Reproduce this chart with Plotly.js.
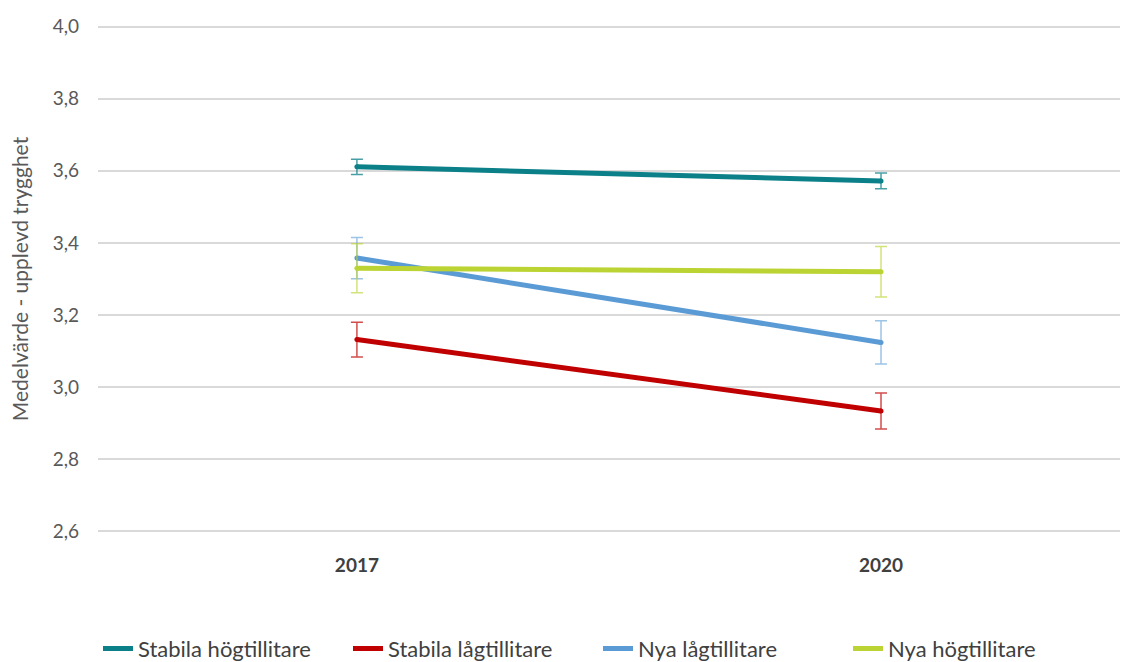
<!DOCTYPE html>
<html><head><meta charset="utf-8">
<script src="https://cdn.plot.ly/plotly-3.0.1.min.js"></script>
<style>body{margin:0;background:#fff}#c{width:1132px;height:662px}</style>
</head><body><div id="c"></div>
<script>
const years = ['2017', '2020'];
const seriesNames = ['Stabila högtillitare', 'Stabila lågtillitare', 'Nya lågtillitare', 'Nya högtillitare'];
const stabilaHog = [3.611, 3.572];
const stabilaHogErr = [0.021, 0.022];
const stabilaLag = [3.132, 2.934];
const stabilaLagErr = [0.048, 0.05];
const nyaLag = [3.358, 3.124];
const nyaLagErr = [0.057, 0.06];
const nyaHog = [3.330, 3.320];
const nyaHogErr = [0.068, 0.07];
const yTicks = [2.6, 2.8, 3.0, 3.2, 3.4, 3.6, 3.8, 4.0];

const colors = ['#0B8088', '#C00000', '#5B9BD5', '#BCD433'];
const errColors = ['rgba(11,128,136,0.75)', 'rgba(192,0,0,0.7)', 'rgba(91,155,213,0.6)', 'rgba(188,212,51,0.65)'];
const vals = [stabilaHog, stabilaLag, nyaLag, nyaHog];
const errs = [stabilaHogErr, stabilaLagErr, nyaLagErr, nyaHogErr];

const traces = vals.map((v, i) => ({
  type: 'scatter', mode: 'lines+markers', x: years, y: v, name: seriesNames[i],
  line: {color: colors[i], width: 5},
  marker: {color: colors[i], size: 5},
  error_y: {type: 'data', array: errs[i], visible: true, color: errColors[i], thickness: 1.5, width: 6}
}));

const layout = {
  width: 1132, height: 662,
  margin: {l: 98, r: 12, t: 25, b: 129, autoexpand: false},
  paper_bgcolor: '#fff', plot_bgcolor: '#fff',
  font: {family: 'Lato, "Open Sans", sans-serif', color: '#595959', size: 19},
  showlegend: true,
  legend: {orientation: 'h', x: 0.0, xanchor: 'left', yref: 'container', y: 0.02, yanchor: 'middle',
    font: {size: 22, color: '#404040'}, traceorder: 'normal', entrywidth: 205},
  xaxis: {type: 'category', range: [-0.494, 1.456], showgrid: false, zeroline: false,
    showline: false, ticks: '', tickfont: {size: 19, color: '#404040', weight: 'bold'}, ticklabelstandoff: 19},
  yaxis: {range: [2.5955, 4.0045], tickvals: yTicks, ticktext: yTicks.map(t => t.toFixed(1).replace('.', ',')),
    showgrid: true, gridcolor: '#D9D9D9', gridwidth: 1.5, zeroline: false, showline: false, ticks: '',
    tickfont: {size: 19, color: '#595959'}, ticklabelstandoff: 18,
    title: {text: 'Medelvärde - upplevd trygghet', font: {size: 21, color: '#595959'}, standoff: 18}}
};
Plotly.newPlot('c', traces, layout, {displayModeBar: false});
</script></body></html>
